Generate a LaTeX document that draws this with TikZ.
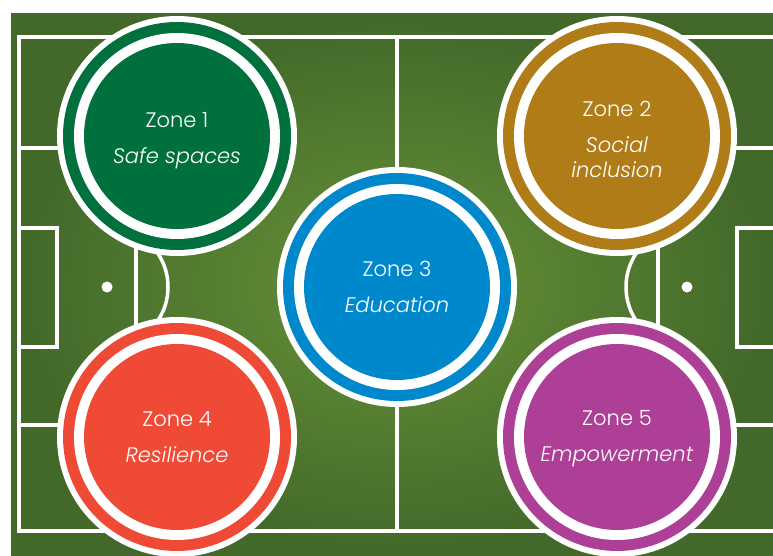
\documentclass[tikz,border=0pt]{standalone}
\usepackage{fontspec}
\IfFontExistsTF{Poppins Light}{%
  \IfFontExistsTF{Poppins Light Italic}{%
    \setmainfont{Poppins Light}[ItalicFont={Poppins Light Italic}]}{%
    \setmainfont{Poppins Light}}}{%
  \setmainfont{Poppins}}
\definecolor{fieldlight}{RGB}{104,146,56}
\definecolor{fielddark}{RGB}{66,104,42}
\definecolor{zgreen}{RGB}{0,112,60}
\definecolor{zgold}{RGB}{176,124,24}
\definecolor{zblue}{RGB}{0,136,204}
\definecolor{zred}{RGB}{239,74,54}
\definecolor{zpurple}{RGB}{173,64,150}
\newcommand\zonedisc[5]{%
  \fill[white] (#2) circle (120pt);
  \fill[#3] (#2) circle (114pt);
  \fill[white] (#2) circle (103pt);
  \fill[#3] (#2) circle (93pt);
  \node[zonetext, yshift=#5] (#1) at (#2) {#4};
}
\begin{document}
\begin{tikzpicture}[x=1pt,y=-1pt,
  pitch/.style={draw=white, line width=3.5pt},
  spot/.style={circle, fill=white, inner sep=0pt, minimum size=11pt},
  zonetext/.style={inner sep=0pt, text=white,
    align=center, font=\fontsize{21pt}{25pt}\selectfont}]
\useasboundingbox (0,0) rectangle (773,556);
\clip (0,0) rectangle (773,556);
\fill[white] (0,0) rectangle (773,556);
\shade[inner color=fieldlight, outer color=fielddark] (11,14) rectangle (780,556);
% pitch lines
\draw[pitch] (780,37) -- (19,37) -- (19,531) -- (780,531);
\draw[pitch] (397,37) -- (397,531);
\draw[pitch] (19,148) -- (136,148) -- (136,425) -- (19,425);
\draw[pitch] (19,228) -- (57,228) -- (57,347) -- (19,347);
\draw[pitch] (780,148) -- (658,148) -- (658,425) -- (780,425);
\draw[pitch] (780,228) -- (737,228) -- (737,347) -- (780,347);
\node[spot] (spotL) at (107,287) {};
\node[spot] (spotR) at (687,287) {};
\begin{scope}
  \clip (136,100) rectangle (250,480);
  \draw[pitch] (spotL) circle (61pt);
\end{scope}
\begin{scope}
  \clip (658,100) rectangle (540,480);
  \draw[pitch] (spotR) circle (61pt);
\end{scope}
% zones
\zonedisc{z1}{177,136}{zgreen}{Zone 1\\[11pt]\textit{Safe spaces}}{-5pt}
\zonedisc{z2}{617,136}{zgold}{Zone 2\\[11pt]\textit{Social}\\\textit{inclusion}}{-3pt}
\zonedisc{z3}{397,287}{zblue}{Zone 3\\[11pt]\textit{Education}}{0pt}
\zonedisc{z4}{177,437}{zred}{Zone 4\\[11pt]\textit{Resilience}}{0pt}
\zonedisc{z5}{617,437}{zpurple}{Zone 5\\[11pt]\textit{Empowerment}}{-2pt}
\end{tikzpicture}
\end{document}
